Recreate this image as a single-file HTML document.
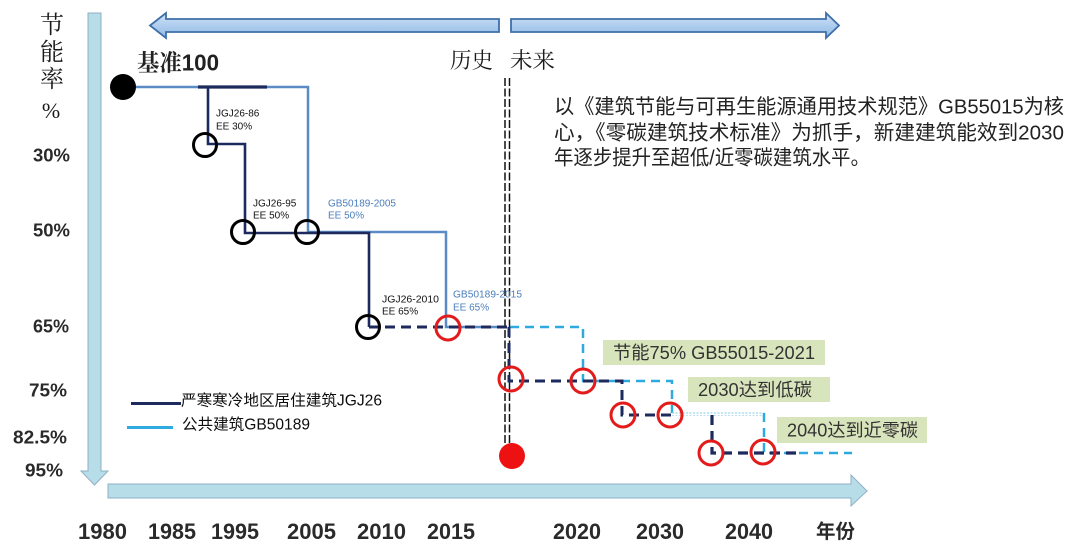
<!DOCTYPE html>
<html><head><meta charset="utf-8"><style>
html,body{margin:0;padding:0;background:#fff;}
svg{display:block;}
.s{font-family:"Liberation Sans","Noto Sans CJK SC",sans-serif;}
.sf{font-family:"Liberation Serif","Noto Serif CJK SC",serif;}
</style></head><body>
<svg width="1080" height="559" viewBox="0 0 1080 559" xmlns="http://www.w3.org/2000/svg">
<defs>
<linearGradient id="ga" x1="0" y1="0" x2="0" y2="1">
<stop offset="0" stop-color="#cfe2f6"/><stop offset="1" stop-color="#8fb9e6"/>
</linearGradient>
</defs>
<rect width="1080" height="559" fill="#fff"/>

<!-- axis arrows -->
<polygon points="88,13 101,13 101,471 108,471 94.5,485 81,471 88,471" fill="#b7dde8" stroke="#8fb0c4" stroke-width="1"/>
<polygon points="108,484 851,484 851,475 867,491 851,506 851,498 108,498" fill="#b7dde8" stroke="#8fb0c4" stroke-width="1"/>

<!-- top arrows -->
<polygon points="499,19 166,19 166,13 150,25.5 166,38 166,32 499,32" fill="url(#ga)" stroke="#3f6fa8" stroke-width="1.8"/>
<polygon points="511,19 826,19 826,13 839,25.5 826,38 826,32 511,32" fill="url(#ga)" stroke="#3f6fa8" stroke-width="1.8"/>

<!-- y label -->
<g class="sf" font-size="24" fill="#1a1a1a" text-anchor="middle">
<text x="52" y="33">节</text>
<text x="52" y="60">能</text>
<text x="52" y="87">率</text>
<text x="51" y="118" font-size="22">%</text>
</g>

<!-- y ticks -->
<g class="s" font-size="18" font-weight="bold" fill="#2a2a2a">
<text x="33" y="161.5" textLength="37" lengthAdjust="spacingAndGlyphs">30%</text>
<text x="33" y="236.5" textLength="37" lengthAdjust="spacingAndGlyphs">50%</text>
<text x="33" y="332.5" textLength="36" lengthAdjust="spacingAndGlyphs">65%</text>
<text x="29" y="396.5" textLength="38" lengthAdjust="spacingAndGlyphs">75%</text>
<text x="13" y="443.5" textLength="54" lengthAdjust="spacingAndGlyphs">82.5%</text>
<text x="25" y="476.5" textLength="38" lengthAdjust="spacingAndGlyphs">95%</text>
</g>

<!-- headings -->
<text x="137" y="70.5" font-size="23" font-weight="bold" fill="#222" class="sf" textLength="82" lengthAdjust="spacingAndGlyphs">基准<tspan font-family="Liberation Sans, sans-serif">100</tspan></text>
<text x="450" y="68" font-size="22" fill="#1a1a1a" class="sf" textLength="43" lengthAdjust="spacingAndGlyphs">历史</text>
<text x="510" y="68" font-size="22" fill="#1a1a1a" class="sf" textLength="45" lengthAdjust="spacingAndGlyphs">未来</text>

<!-- divider -->
<line x1="505" y1="78" x2="505" y2="452" stroke="#111" stroke-width="1.5" stroke-dasharray="8 2.5"/>
<line x1="509.5" y1="78" x2="509.5" y2="452" stroke="#111" stroke-width="1.5" stroke-dasharray="8 2.5"/>

<!-- history lines -->
<path d="M123,87 H308 V232 H446 V327 H507" fill="none" stroke="#5b8bc4" stroke-width="2.5"/>
<path d="M198,87 H267" stroke="#1c2a5e" stroke-width="3.2"/>
<path d="M208,87 V144 H245 V233 H369 V327" fill="none" stroke="#1c2a5e" stroke-width="2.6"/>
<path d="M369,327 H507" fill="none" stroke="#1c2a5e" stroke-width="3" stroke-dasharray="10 6"/>

<!-- future lines -->
<path d="M510,327 H583 V381 H672 V413" fill="none" stroke="#2eaae1" stroke-width="2.5" stroke-dasharray="9 6"/>
<path d="M672,413 H764" fill="none" stroke="#9fd3ee" stroke-width="1.2" stroke-dasharray="2 1.5"/>
<path d="M672,415.5 H764" fill="none" stroke="#bfe2f3" stroke-width="1" stroke-dasharray="2 1.5"/>
<path d="M764,413 V453 H852" fill="none" stroke="#2eaae1" stroke-width="2.5" stroke-dasharray="9 6"/>
<path d="M509,327 V381 H622 V415 H672" fill="none" stroke="#1c2a5e" stroke-width="3" stroke-dasharray="10 6"/>
<path d="M712,415 V453 H802" fill="none" stroke="#1c2a5e" stroke-width="3.2" stroke-dasharray="10 6"/>

<!-- dots -->
<circle cx="123" cy="87" r="13" fill="#000"/>
<circle cx="512" cy="456" r="13" fill="#ee1111"/>
<g fill="none" stroke="#000" stroke-width="3">
<circle cx="205" cy="145" r="11.5"/>
<circle cx="243" cy="232" r="11.5"/>
<circle cx="307" cy="232" r="11.5"/>
<circle cx="368" cy="327" r="11.5"/>
</g>
<g fill="none" stroke="#e31b1b" stroke-width="3">
<circle cx="448" cy="328" r="12"/>
<circle cx="511" cy="379" r="12"/>
<circle cx="583" cy="381" r="12"/>
<circle cx="623" cy="415" r="12"/>
<circle cx="670" cy="415" r="12"/>
<circle cx="711" cy="453" r="12"/>
<circle cx="763" cy="452" r="12"/>
</g>

<!-- small labels -->
<g class="s" font-size="10" fill="#111">
<text x="216" y="116.5">JGJ26-86</text>
<text x="216" y="129.5">EE 30%</text>
<text x="253" y="206.5">JGJ26-95</text>
<text x="253" y="218.5">EE 50%</text>
<text x="382" y="302.5" textLength="57" lengthAdjust="spacingAndGlyphs">JGJ26-2010</text>
<text x="382" y="314.5">EE 65%</text>
</g>
<g class="s" font-size="10" fill="#4a7ebb">
<text x="328" y="206.5" textLength="68" lengthAdjust="spacingAndGlyphs">GB50189-2005</text>
<text x="328" y="218.5">EE  50%</text>
<text x="453" y="297.5" textLength="69" lengthAdjust="spacingAndGlyphs">GB50189-2015</text>
<text x="453" y="310.5">EE  65%</text>
</g>

<!-- legend -->
<line x1="131" y1="403.5" x2="181" y2="403.5" stroke="#1c2a5e" stroke-width="3"/>
<line x1="127" y1="427.5" x2="173" y2="427.5" stroke="#2eaae1" stroke-width="3"/>
<g class="s" font-size="15.5" fill="#0d0d0d">
<text x="181" y="405.5" textLength="201" lengthAdjust="spacingAndGlyphs">严寒寒冷地区居住建筑JGJ26</text>
<text x="182" y="429.5" textLength="128" lengthAdjust="spacingAndGlyphs">公共建筑GB50189</text>
</g>

<!-- paragraph -->
<g class="s" font-size="20.5" fill="#222">
<text x="554" y="113.5" textLength="510" lengthAdjust="spacingAndGlyphs">以《建筑节能与可再生能源通用技术规范》GB55015为核</text>
<text x="554" y="139.5" textLength="510" lengthAdjust="spacingAndGlyphs">心，《零碳建筑技术标准》为抓手，新建建筑能效到2030</text>
<text x="554" y="164.5" textLength="316" lengthAdjust="spacingAndGlyphs">年逐步提升至超低/近零碳建筑水平。</text>
</g>

<!-- boxes -->
<rect x="603" y="340" width="222" height="25" fill="#d8e4bc"/>
<rect x="688" y="377" width="142" height="25" fill="#d8e4bc"/>
<rect x="777" y="417" width="150" height="26" fill="#d8e4bc"/>
<g class="s" font-size="18" fill="#333">
<text x="613" y="359" textLength="202" lengthAdjust="spacingAndGlyphs">节能75% GB55015-2021</text>
<text x="698" y="396" textLength="114" lengthAdjust="spacingAndGlyphs">2030达到低碳</text>
<text x="787" y="436.5" textLength="131" lengthAdjust="spacingAndGlyphs">2040达到近零碳</text>
</g>

<!-- years -->
<g class="s" font-size="22" font-weight="bold" fill="#2a2a2a">
<text x="78" y="539" textLength="49" lengthAdjust="spacingAndGlyphs">1980</text>
<text x="148" y="539" textLength="48" lengthAdjust="spacingAndGlyphs">1985</text>
<text x="211" y="539" textLength="48" lengthAdjust="spacingAndGlyphs">1995</text>
<text x="287" y="539" textLength="49" lengthAdjust="spacingAndGlyphs">2005</text>
<text x="357" y="539" textLength="49" lengthAdjust="spacingAndGlyphs">2010</text>
<text x="427" y="539" textLength="48" lengthAdjust="spacingAndGlyphs">2015</text>
<text x="553" y="539" textLength="48" lengthAdjust="spacingAndGlyphs">2020</text>
<text x="636" y="539" textLength="48" lengthAdjust="spacingAndGlyphs">2030</text>
<text x="725" y="539" textLength="48" lengthAdjust="spacingAndGlyphs">2040</text>
<text x="816" y="538" font-size="19.5" textLength="39" lengthAdjust="spacingAndGlyphs">年份</text>
</g>
</svg>
</body></html>
